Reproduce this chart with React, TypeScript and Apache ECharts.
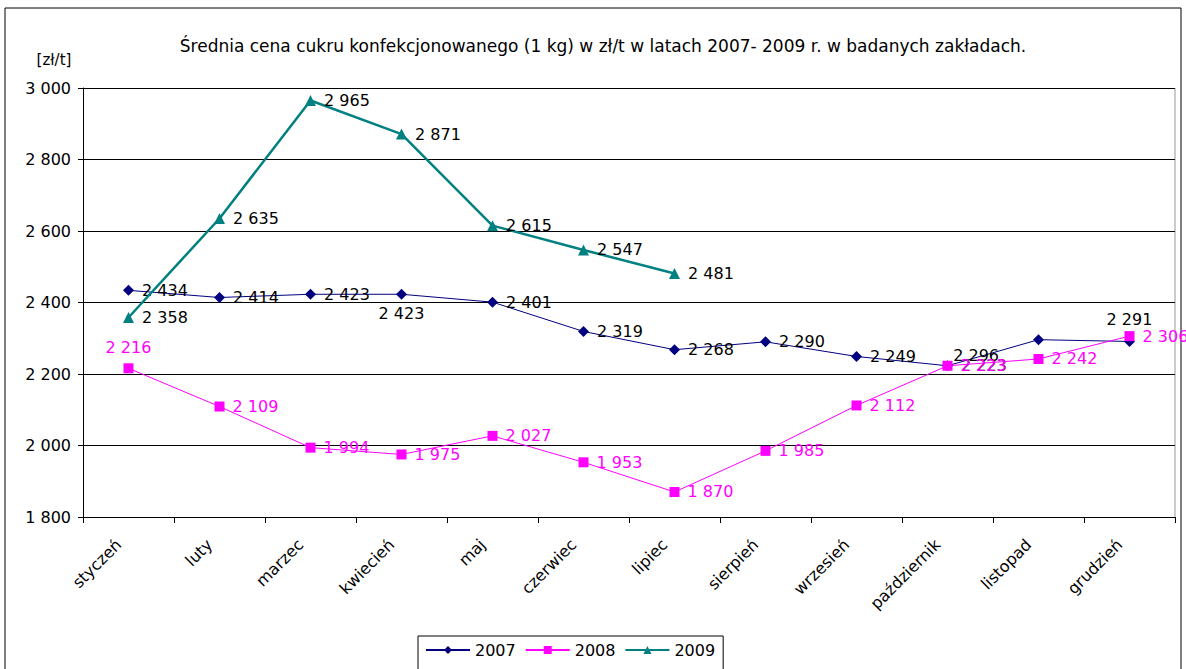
import React, { useEffect, useRef } from "react";
import * as echarts from "echarts";

const months = ["styczeń", "luty", "marzec", "kwiecień", "maj", "czerwiec", "lipiec", "sierpień", "wrzesień", "październik", "listopad", "grudzień"];
const s2007 = [2434, 2414, 2423, 2423, 2401, 2319, 2268, 2290, 2249, 2223, 2296, 2291];
const s2008 = [2216, 2109, 1994, 1975, 2027, 1953, 1870, 1985, 2112, 2223, 2242, 2306];
const s2009 = [2358, 2635, 2965, 2871, 2615, 2547, 2481];
const yTicks = { min: 1800, max: 3000, interval: 200 };
const titleText = "Średnia cena cukru konfekcjonowanego (1 kg) w zł/t w latach 2007- 2009 r. w badanych zakładach.";

const fmt = (v: number) => {
  const s = String(Math.round(v));
  return s.length > 3 ? s.slice(0, s.length - 3) + " " + s.slice(-3) : s;
};

export default function App() {
  const ref = useRef<HTMLDivElement>(null);
  useEffect(() => {
    if (!ref.current) return;
    const chart = echarts.init(ref.current, null, { renderer: "svg" });
    const font = "DejaVu Sans, Liberation Sans, Arial, sans-serif";
    const lbl = (color: string) => ({
      show: true,
      position: "right" as const,
      distance: 8,
      color,
      fontSize: 16,
      fontFamily: font,
      formatter: (p: any) => fmt(p.value),
    });
    const d2007 = s2007.map((v, i) => {
      if (i === 3) return { value: v, label: { position: "bottom", distance: 6 } };
      if (i === 10) return { value: v, label: { position: "left", offset: [-26, 16] } };
      if (i === 11) return { value: v, label: { position: "top", distance: 8 } };
      return v;
    });
    const d2008 = s2008.map((v, i) => {
      if (i === 0) return { value: v, label: { position: "top", distance: 8 } };
      return v;
    });
    chart.setOption({
      animation: false,
      backgroundColor: "#ffffff",
      textStyle: { fontFamily: font },
      grid: { left: 83, right: 11, top: 88, bottom: 152, containLabel: false },
      graphic: [
        {
          type: "rect",
          shape: { x: 5, y: 8, width: 1176, height: 700 },
          style: { fill: "none", stroke: "#000", lineWidth: 1 },
          silent: true,
          z: -10,
        },
        {
          type: "text",
          x: 603,
          y: 46,
          style: {
            text: titleText,
            fontSize: 17,
            fontFamily: font,
            fill: "#000",
            align: "center",
            verticalAlign: "middle",
          },
        },
        {
          type: "text",
          x: 54,
          y: 60,
          style: {
            text: "[zł/t]",
            fontSize: 15,
            fontFamily: font,
            fill: "#000",
            align: "center",
            verticalAlign: "middle",
          },
        },
        {
          type: "line",
          shape: { x1: 1175, y1: 88, x2: 1175, y2: 517 },
          style: { stroke: "#999", lineWidth: 1 },
        },
      ],
      legend: {
        left: 418,
        top: 636,
        itemGap: 9,
        itemWidth: 44,
        itemHeight: 10,
        padding: [6, 8, 14, 7],
        borderColor: "#000",
        borderWidth: 1,
        textStyle: { fontSize: 16, fontFamily: font, color: "#000" },
        data: ["2007", "2008", "2009"],
      },
      xAxis: {
        type: "category",
        data: months,
        boundaryGap: true,
        axisLine: { lineStyle: { color: "#000", width: 1 } },
        axisTick: { show: true, length: 6, lineStyle: { color: "#000" }, alignWithLabel: false },
        axisLabel: {
          rotate: 45,
          fontSize: 16,
          fontFamily: font,
          color: "#000",
          margin: 15,
          padding: [0, 14, 0, 0],
          interval: 0,
        },
        splitLine: { show: false },
      },
      yAxis: {
        type: "value",
        min: yTicks.min,
        max: yTicks.max,
        interval: yTicks.interval,
        axisLine: { show: true, lineStyle: { color: "#000", width: 1 } },
        axisTick: { show: true, length: 5, lineStyle: { color: "#000" } },
        axisLabel: {
          fontSize: 16,
          fontFamily: font,
          color: "#000",
          margin: 12,
          formatter: (v: number) => fmt(v),
        },
        splitLine: { show: true, lineStyle: { color: "#000", width: 1 } },
      },
      series: [
        {
          name: "2007",
          type: "line",
          data: d2007,
          color: "#000080",
          lineStyle: { color: "#000080", width: 1 },
          symbol: "diamond",
          symbolSize: 11,
          itemStyle: { color: "#000080" },
          label: lbl("#000"),
          z: 3,
        },
        {
          name: "2008",
          type: "line",
          data: d2008,
          color: "#ff00ff",
          lineStyle: { color: "#ff00ff", width: 1 },
          symbol: "rect",
          symbolSize: 10,
          itemStyle: { color: "#ff00ff" },
          label: lbl("#ff00ff"),
          z: 4,
        },
        {
          name: "2009",
          type: "line",
          data: s2009,
          color: "#008080",
          lineStyle: { color: "#008080", width: 2.5 },
          symbol: "triangle",
          symbolSize: 11,
          itemStyle: { color: "#008080" },
          label: lbl("#000"),
          z: 5,
        },
      ],
    });
    return () => chart.dispose();
  }, []);
  return <div ref={ref} style={{ position: "fixed", left: 0, top: 0, width: 1186, height: 669 }} />;
}
